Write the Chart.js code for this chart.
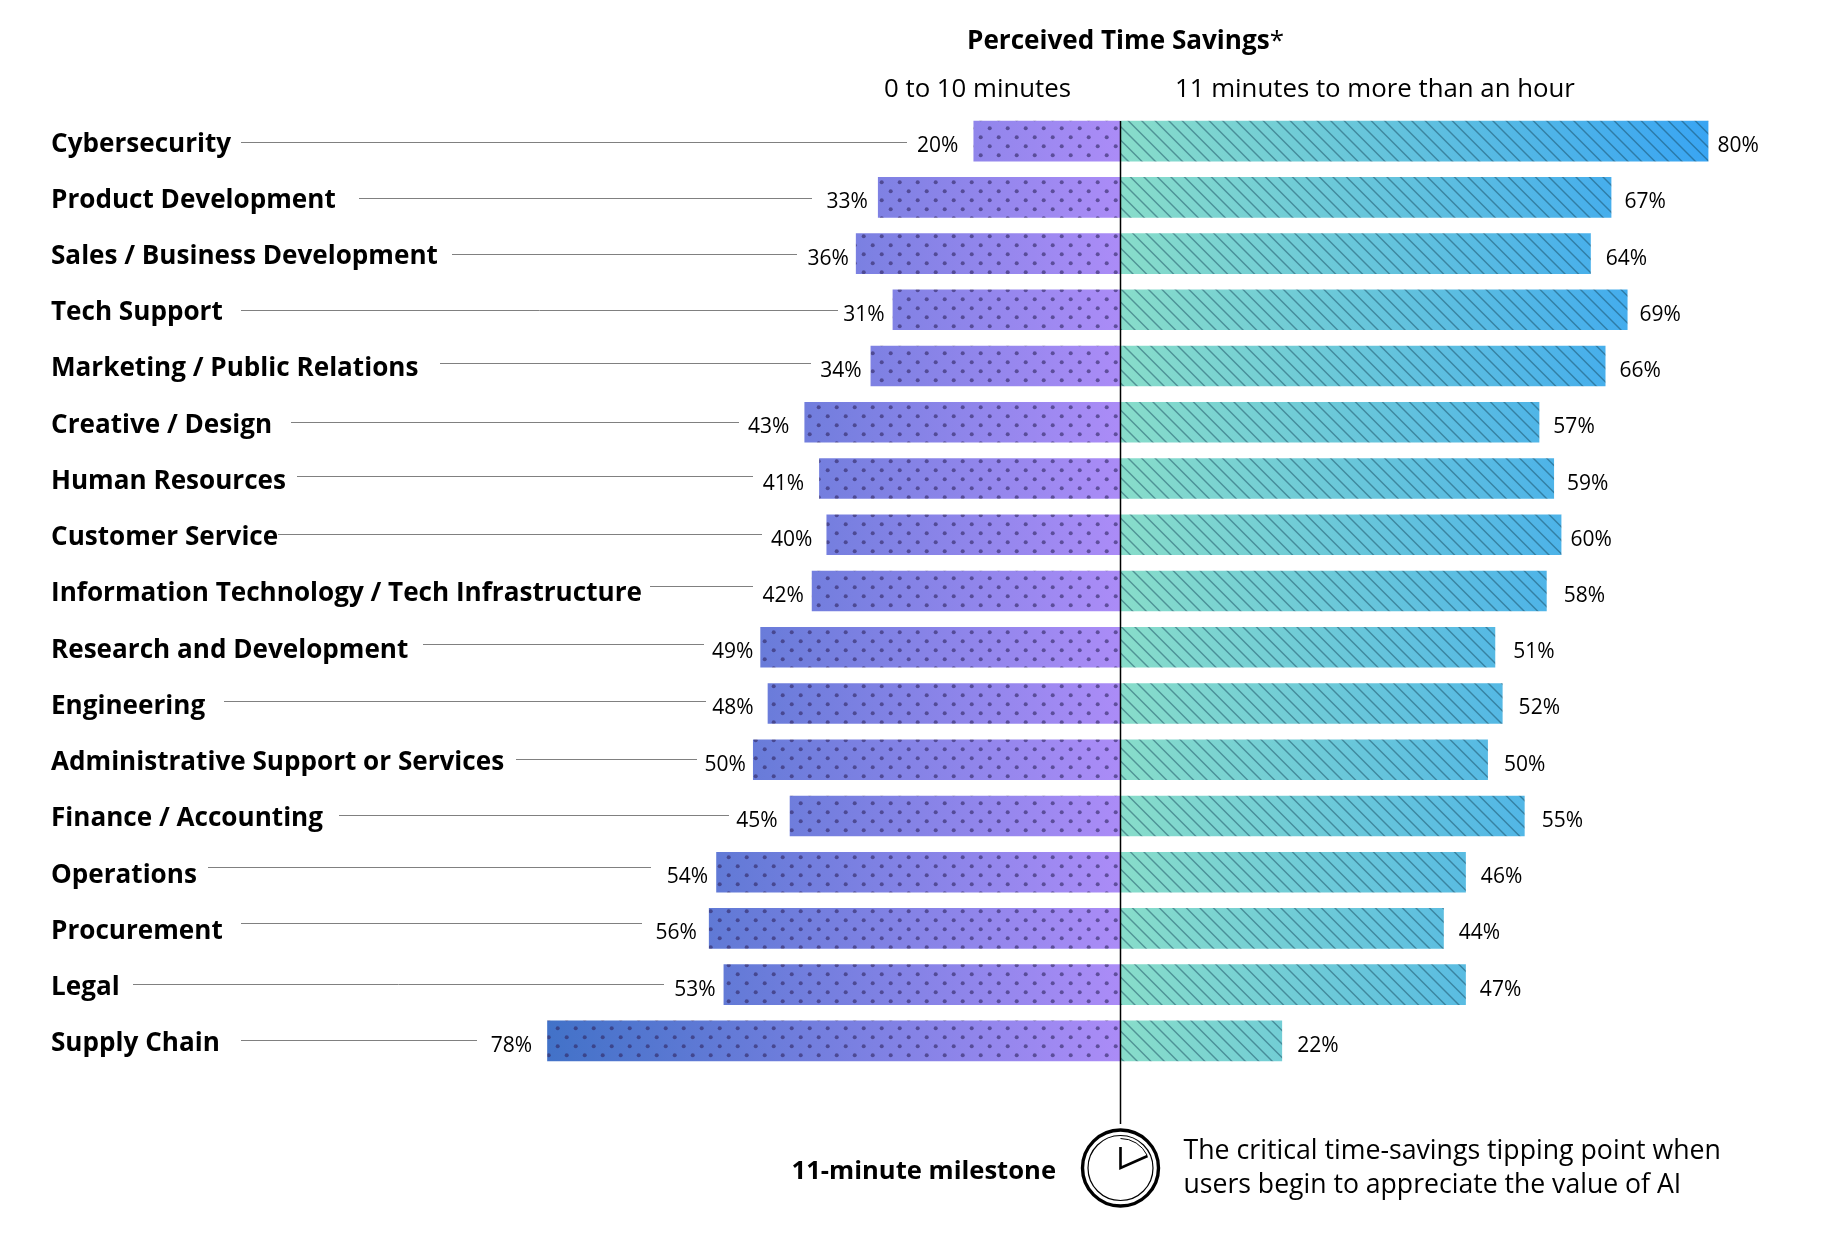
<!DOCTYPE html>
<html lang="en">
<head>
<meta charset="utf-8">
<title>Perceived Time Savings</title>
<script src="https://cdn.jsdelivr.net/npm/chart.js"></script>
<style>
    html, body { margin: 0; padding: 0; background: #fff; }
    #wrap { width: 1833px; height: 1245px; }
</style>
</head>
<body>
<div id="wrap"><canvas id="chart" width="1833" height="1245"></canvas></div>
<script>
const categories = [
    'Cybersecurity', 'Product Development', 'Sales / Business Development', 'Tech Support',
    'Marketing / Public Relations', 'Creative / Design', 'Human Resources', 'Customer Service',
    'Information Technology / Tech Infrastructure', 'Research and Development', 'Engineering',
    'Administrative Support or Services', 'Finance / Accounting', 'Operations', 'Procurement',
    'Legal', 'Supply Chain'
];
// printed percentages
const underLabels = [20, 33, 36, 31, 34, 43, 41, 40, 42, 49, 48, 50, 45, 54, 56, 53, 78];
const overLabels = [80, 67, 64, 69, 66, 57, 59, 60, 58, 51, 52, 50, 55, 46, 44, 47, 22];
// bar lengths as measured, a few are a touch off the printed number
const underBars = [20, 33, 36, 31, 34, 43, 41, 40, 42, 49, 48, 50, 45, 55, 56, 54, 78];
const overBars = [80, 66.8, 64, 69, 66, 57, 59, 60, 58, 51, 52, 50, 55, 47, 44, 47, 22];

// hand placed label gaps and leader lines, the source is not regular about these
const leftGaps = [15, 10, 7, 8, 9, 15, 15, 14, 8, 7, 14, 7, 12, 8, 12, 8, 15];
const rightGaps = [9, 13, 15, 12, 14, 14, 13, 9, 17, 18, 16, 16, 17, 15, 15, 14, 15];
const leaderStart = [241, 359, 452, 241, 440, 291, 297, 278, 650, 423, 224, 516, 339, 208, 241, 133, 241];
const leaderEnd = [907, 812, 797, 838, 811, 739, 753, 762, 753, 704, 706, 697, 729, 651, 642, 664, 477];
const leaderDy = [1, 1, 0, 0, -3, 0, -3, -1, -5, -3, -2, -1, -1, -5, -5, -1, -1];

const FONT = '"Open Sans", "Noto Sans", sans-serif';
const ZERO_X = 1120.5;
const W = 1833, H = 1245;

function makeFill(gradFrom, gradTo, x0, x1, drawPattern) {
    const off = document.createElement('canvas');
    off.width = W;
    off.height = H;
    const c = off.getContext('2d');
    const g = c.createLinearGradient(x0, 0, x1, 0);
    g.addColorStop(0, gradFrom);
    g.addColorStop(1, gradTo);
    c.fillStyle = g;
    c.fillRect(0, 0, W, H);
    drawPattern(c);
    return c;
}

function dots(c) {
    c.fillStyle = 'rgba(50, 40, 100, 0.62)';
    for (let y = 2.3; y < H; y += 9) {
        const odd = Math.round((y - 2.3) / 9) % 2;
        for (let x = odd ? 8.7 : 17.7; x < W; x += 18) {
            c.beginPath();
            c.arc(x, y, 2, 0, Math.PI * 2);
            c.fill();
        }
    }
}

function hatch(c) {
    c.strokeStyle = 'rgba(20, 70, 90, 0.48)';
    c.lineWidth = 1.4;
    for (let k = -H; k < W; k += 13.5) {
        c.beginPath();
        c.moveTo(k + 11.5, 0);
        c.lineTo(k + 11.5 + H, H);
        c.stroke();
    }
}

const canvas = document.getElementById('chart');
const ctx = canvas.getContext('2d');
const leftFill = ctx.createPattern(makeFill('#4272C8', '#AB8CF7', 547, ZERO_X, dots).canvas, 'no-repeat');
const rightFill = ctx.createPattern(makeFill('#88DDCA', '#39A5F3', ZERO_X, 1709, hatch).canvas, 'no-repeat');

function text(c, str, x, y, font, align) {
    c.font = font;
    c.textAlign = align || 'left';
    c.textBaseline = 'alphabetic';
    c.fillStyle = '#000';
    c.fillText(str, x, y);
}

const barAnnotations = {
    id: 'barAnnotations',
    afterDatasetsDraw(chart) {
        const c = chart.ctx;
        const x = chart.scales.x;
        const y = chart.scales.y;
        c.save();

        // value labels and leader lines
        categories.forEach((name, i) => {
            const rowY = y.getPixelForValue(i);
            text(c, underLabels[i] + '%', x.getPixelForValue(-underBars[i]) - leftGaps[i], rowY + 11, '21px ' + FONT, 'right');
            text(c, overLabels[i] + '%', x.getPixelForValue(overBars[i]) + rightGaps[i], rowY + 11, '21px ' + FONT, 'left');
            const lineY = Math.round(rowY + leaderDy[i]) + 0.5;
            c.strokeStyle = '#808080';
            c.lineWidth = 1;
            c.beginPath();
            c.moveTo(leaderStart[i], lineY);
            c.lineTo(leaderEnd[i], lineY);
            c.stroke();
        });

        // line at 0 running down to the clock
        const zero = Math.floor(x.getPixelForValue(0)) + 0.5;
        c.strokeStyle = '#000';
        c.lineWidth = 1.5;
        c.beginPath();
        c.moveTo(zero, 121);
        c.lineTo(zero, 1124);
        c.stroke();

        // header
        c.font = 'bold 26.1px ' + FONT;
        const titleW = c.measureText('Perceived Time Savings').width;
        text(c, 'Perceived Time Savings', 967, 49, 'bold 26.1px ' + FONT);
        text(c, '*', 967 + titleW, 49, '26px ' + FONT);
        text(c, '0 to 10 minutes', 884, 97, '25.8px ' + FONT);
        text(c, '11 minutes to more than an hour', 1175, 97, '25.8px ' + FONT);

        // footer
        text(c, '11-minute milestone', 1056, 1179, 'bold 25.6px ' + FONT, 'right');
        text(c, 'The critical time-savings tipping point when', 1183.5, 1159, '26.7px ' + FONT);
        text(c, 'users begin to appreciate the value of AI', 1183.5, 1193, '26.6px ' + FONT);

        // clock
        const cx = zero, cy = 1168;
        c.strokeStyle = '#000';
        c.lineWidth = 3.4;
        c.beginPath();
        c.arc(cx, cy, 38, 0, Math.PI * 2);
        c.stroke();
        c.lineWidth = 1.2;
        c.beginPath();
        c.arc(cx, cy, 32.5, 0, Math.PI * 2);
        c.stroke();
        c.lineWidth = 1;
        c.beginPath();
        c.arc(cx, cy, 29.5, -Math.PI / 2, -0.45);
        c.stroke();
        c.lineWidth = 2.6;
        c.beginPath();
        c.moveTo(cx, cy - 21);
        c.lineTo(cx, cy);
        c.lineTo(cx + 27, cy - 12);
        c.stroke();
        c.restore();
    }
};

new Chart(ctx, {
    type: 'bar',
    data: {
        labels: categories,
        datasets: [
            {
                label: '0 to 10 minutes',
                data: underBars.map(v => -v),
                backgroundColor: leftFill,
                categoryPercentage: 1,
                barPercentage: 0.722
            },
            {
                label: '11 minutes to more than an hour',
                data: overBars,
                backgroundColor: rightFill,
                categoryPercentage: 1,
                barPercentage: 0.722
            }
        ]
    },
    options: {
        indexAxis: 'y',
        responsive: false,
        animation: false,
        layout: { padding: { left: 18, right: 7, top: 113, bottom: 176 } },
        plugins: { legend: { display: false }, title: { display: false }, tooltip: { enabled: false } },
        scales: {
            x: {
                stacked: true,
                min: -150,
                max: 96,
                display: false
            },
            y: {
                stacked: true,
                border: { display: false },
                grid: { display: false, drawTicks: false },
                afterFit(axis) { axis.width = 0; },
                ticks: {
                    mirror: true,
                    padding: 33,
                    labelOffset: 3,
                    color: '#000',
                    font: { family: FONT, size: 26.1, weight: 'bold' }
                }
            }
        }
    },
    plugins: [barAnnotations]
});
</script>
</body>
</html>
